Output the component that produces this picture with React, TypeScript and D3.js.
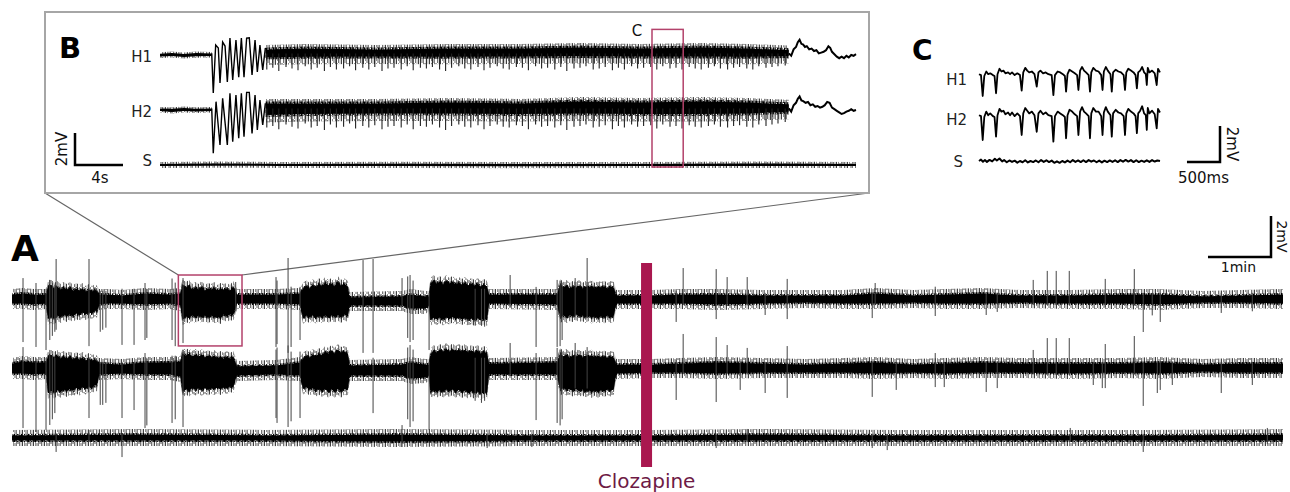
import React from "react";
import * as d3 from "d3";

type Band = [number, number, number];
type Spike = [number, number, number];
type Pt = [number, number];

// ---------- Panel A: time in minutes, amplitude in mV ----------
const A_T_MAX = 20.17;
const CLOZAPINE_T = 10.07;

const A_H1_BAND: Band[] = [
  [0.0, 0.29, -0.29], [0.17, 0.34, -0.29], [0.35, 0.29, -0.34], [0.54, 0.29, -0.29],
  [0.57, 0.68, -1.05], [0.62, 0.78, -0.98], [0.67, 0.59, -1.05], [0.72, 0.68, -0.88], [0.77, 0.54, -0.98],
  [0.82, 0.63, -0.83], [0.87, 0.54, -0.93], [0.92, 0.63, -0.83], [0.97, 0.49, -0.93], [1.02, 0.59, -0.78],
  [1.07, 0.49, -0.88], [1.12, 0.59, -0.73], [1.17, 0.44, -0.83], [1.22, 0.54, -0.73], [1.27, 0.44, -0.78],
  [1.32, 0.54, -0.63], [1.35, 0.44, -0.73], [1.38, 0.29, -0.34],
  [1.51, 0.29, -0.29], [1.75, 0.24, -0.29], [2.11, 0.34, -0.34], [2.51, 0.29, -0.29], [2.67, 0.34, -0.39],
  [2.71, 0.78, -1.1], [2.76, 0.63, -0.93], [2.81, 0.73, -1.0], [2.86, 0.54, -0.88], [2.91, 0.63, -0.98],
  [2.96, 0.54, -0.88], [3.01, 0.68, -0.98], [3.06, 0.49, -0.88], [3.11, 0.59, -1.0], [3.16, 0.54, -0.88],
  [3.21, 0.63, -0.98], [3.26, 0.49, -0.93], [3.31, 0.59, -1.02], [3.36, 0.54, -0.83], [3.41, 0.59, -0.93],
  [3.46, 0.49, -0.83], [3.51, 0.68, -0.88], [3.54, 0.49, -0.6], [3.57, 0.29, -0.29],
  [4.19, 0.29, -0.29], [4.57, 0.34, -0.34],
  [4.62, 0.59, -1.02], [4.67, 0.73, -0.88], [4.72, 0.59, -0.98], [4.77, 0.78, -0.88], [4.82, 0.63, -1.0],
  [4.87, 0.83, -0.9], [4.92, 0.68, -0.98], [4.97, 0.88, -0.88], [5.02, 0.73, -0.98], [5.07, 0.83, -0.88],
  [5.12, 0.7, -0.95], [5.17, 0.93, -0.85], [5.22, 0.73, -0.98], [5.27, 0.83, -0.83], [5.33, 0.68, -0.93],
  [5.36, 0.15, -0.39], [6.19, 0.2, -0.39], [6.32, 0.29, -0.54], [6.56, 0.2, -0.54], [6.62, 0.2, -0.39],
  [6.64, 0.83, -1.12], [6.69, 0.98, -0.98], [6.74, 0.83, -1.07], [6.79, 0.93, -0.98], [6.84, 0.78, -1.1],
  [6.89, 0.98, -0.98], [6.94, 0.83, -1.05], [6.99, 0.93, -0.95], [7.04, 0.78, -1.05], [7.09, 0.88, -0.98],
  [7.14, 0.78, -1.07], [7.19, 0.88, -1.0], [7.24, 0.73, -1.1], [7.29, 0.83, -1.02], [7.34, 0.73, -1.12],
  [7.39, 0.83, -1.0], [7.44, 0.68, -1.12], [7.49, 0.78, -1.05], [7.54, 0.68, -1.12], [7.57, 0.29, -0.29],
  [8.65, 0.29, -0.34],
  [8.7, 0.78, -0.98], [8.75, 0.63, -0.88], [8.8, 0.73, -0.98], [8.85, 0.59, -0.88], [8.9, 0.68, -0.93],
  [8.95, 0.63, -0.83], [9.0, 0.73, -0.93], [9.05, 0.59, -0.88], [9.1, 0.68, -0.98], [9.15, 0.63, -0.88],
  [9.2, 0.73, -1.0], [9.25, 0.59, -0.9], [9.3, 0.68, -1.02], [9.35, 0.63, -0.9], [9.4, 0.7, -1.0],
  [9.45, 0.59, -0.88], [9.5, 0.68, -0.98], [9.55, 0.63, -0.9], [9.59, 0.24, -0.29],
  [10.16, 0.24, -0.29], [10.6, 0.29, -0.29], [11.2, 0.29, -0.34], [11.9, 0.24, -0.29], [12.6, 0.24, -0.24],
  [13.2, 0.24, -0.29], [13.7, 0.34, -0.29], [14.3, 0.24, -0.24], [14.8, 0.29, -0.29], [15.4, 0.34, -0.29],
  [16.0, 0.24, -0.24], [16.8, 0.24, -0.29], [17.6, 0.29, -0.29], [18.2, 0.29, -0.34], [18.9, 0.2, -0.24],
  [19.5, 0.24, -0.24], [20.17, 0.29, -0.29],
];

const A_H2_BAND: Band[] = [
  [0.0, 0.29, -0.34], [0.17, 0.39, -0.34], [0.35, 0.34, -0.39], [0.54, 0.34, -0.34],
  [0.57, 0.63, -1.32], [0.62, 0.73, -1.2], [0.67, 0.59, -1.3], [0.72, 0.68, -1.15], [0.77, 0.54, -1.25],
  [0.82, 0.63, -1.12], [0.87, 0.54, -1.22], [0.92, 0.63, -1.1], [0.97, 0.49, -1.2], [1.02, 0.59, -1.05],
  [1.07, 0.49, -1.15], [1.12, 0.59, -1.0], [1.17, 0.44, -1.1], [1.22, 0.54, -0.98], [1.27, 0.44, -1.05],
  [1.32, 0.49, -0.9], [1.35, 0.39, -0.95], [1.38, 0.29, -0.39],
  [1.75, 0.24, -0.34], [2.11, 0.34, -0.39], [2.51, 0.34, -0.39], [2.67, 0.39, -0.49],
  [2.71, 0.78, -1.25], [2.76, 0.68, -1.1], [2.81, 0.78, -1.2], [2.86, 0.63, -1.05], [2.91, 0.73, -1.15],
  [2.96, 0.63, -1.05], [3.01, 0.73, -1.17], [3.06, 0.59, -1.05], [3.11, 0.68, -1.15], [3.16, 0.59, -1.05],
  [3.21, 0.68, -1.12], [3.26, 0.54, -1.02], [3.31, 0.63, -1.12], [3.36, 0.54, -1.0], [3.41, 0.63, -1.07],
  [3.46, 0.54, -0.98], [3.51, 0.63, -1.02], [3.54, 0.4, -0.7], [3.57, 0.15, -0.44],
  [4.19, 0.2, -0.39], [4.57, 0.34, -0.44],
  [4.62, 0.54, -1.1], [4.67, 0.68, -1.0], [4.72, 0.59, -1.15], [4.77, 0.73, -1.05], [4.82, 0.63, -1.2],
  [4.87, 0.78, -1.1], [4.92, 0.68, -1.22], [4.97, 0.88, -1.1], [5.02, 0.78, -1.25], [5.07, 0.93, -1.12],
  [5.12, 0.78, -1.25], [5.17, 0.98, -1.1], [5.22, 0.83, -1.25], [5.27, 0.88, -1.1], [5.33, 0.78, -1.15],
  [5.36, 0.2, -0.44], [6.19, 0.24, -0.44], [6.32, 0.34, -0.59], [6.56, 0.24, -0.54], [6.62, 0.24, -0.44],
  [6.64, 0.73, -1.3], [6.69, 0.93, -1.15], [6.74, 0.83, -1.25], [6.79, 0.98, -1.15], [6.84, 0.88, -1.25],
  [6.89, 1.02, -1.12], [6.94, 0.88, -1.22], [6.99, 1.0, -1.12], [7.04, 0.88, -1.25], [7.09, 0.98, -1.15],
  [7.14, 0.88, -1.27], [7.19, 0.98, -1.17], [7.24, 0.83, -1.3], [7.29, 0.93, -1.2], [7.34, 0.83, -1.32],
  [7.39, 0.93, -1.22], [7.44, 0.78, -1.35], [7.49, 0.88, -1.25], [7.54, 0.78, -1.32], [7.57, 0.29, -0.39],
  [8.65, 0.34, -0.39],
  [8.7, 0.78, -1.15], [8.75, 0.63, -1.05], [8.8, 0.73, -1.15], [8.85, 0.59, -1.1], [8.9, 0.68, -1.2],
  [8.95, 0.63, -1.1], [9.0, 0.73, -1.22], [9.05, 0.59, -1.12], [9.1, 0.68, -1.25], [9.15, 0.63, -1.15],
  [9.2, 0.7, -1.27], [9.25, 0.59, -1.15], [9.3, 0.68, -1.27], [9.35, 0.59, -1.15], [9.4, 0.66, -1.22],
  [9.45, 0.56, -1.12], [9.5, 0.63, -1.2], [9.55, 0.59, -1.1], [9.59, 0.24, -0.34],
  [10.16, 0.24, -0.29], [10.6, 0.29, -0.29], [11.2, 0.34, -0.34], [11.9, 0.29, -0.29], [12.6, 0.24, -0.29],
  [13.2, 0.29, -0.29], [13.7, 0.34, -0.34], [14.3, 0.24, -0.29], [14.8, 0.29, -0.34], [15.4, 0.34, -0.29],
  [16.0, 0.29, -0.29], [16.8, 0.29, -0.34], [17.6, 0.29, -0.29], [18.2, 0.34, -0.34], [18.9, 0.24, -0.24],
  [19.5, 0.29, -0.29], [20.17, 0.29, -0.29],
];

const A_S_BAND: Band[] = [
  [0, 0.2, -0.2], [2, 0.24, -0.2], [4, 0.2, -0.2], [6, 0.24, -0.24], [8, 0.2, -0.2],
  [10.16, 0.2, -0.2], [12, 0.24, -0.2], [14, 0.2, -0.2], [16, 0.2, -0.2], [18, 0.2, -0.2],
  [20.17, 0.24, -0.2],
];

// spikes: [time (min), top (mV), bottom (mV)]
const A_H1_SPIKES: Spike[] = [
  [0.175, 1.02, -2.1], [0.381, 0.78, -2.34], [0.54, 0.5, -2.49], [0.6, 0.93, -2.0],
  [0.64, 0.78, -1.8], [0.68, 0.7, -1.6], [0.7, 1.95, -1.5], [1.222, 1.95, -2.3],
  [1.4, 0.4, -1.6], [1.44, 0.4, -1.5], [1.49, 0.4, -1.4], [1.746, 0.5, -2.24],
  [1.937, 0.5, -2.24], [2.111, 0.78, -2.0], [2.14, 0.5, -1.9], [2.54, 1.0, -2.0],
  [2.59, 0.8, -2.3], [2.714, 1.02, -2.15], [3.55, 0.83, -0.6], [4.19, 1.07, -2.34],
  [4.206, 0.9, -2.2], [4.381, 2.0, -2.63], [4.429, 0.6, -2.34], [4.571, 0.59, -2.0],
  [5.571, 1.9, -2.63], [5.73, 1.95, -2.63], [6.19, 1.02, -0.3], [6.28, 1.1, -1.9],
  [6.317, 1.17, -2.1], [6.365, 0.9, -2.0], [6.619, 0.3, -2.49], [7.35, 0.5, -1.3],
  [7.45, 0.5, -1.3], [7.5, 0.5, -1.35], [7.905, 1.17, -0.4], [8.317, 0.59, -2.34],
  [8.651, 0.93, -2.34], [8.698, 0.9, -2.3], [8.73, 0.8, -2.0], [8.937, 1.02, -0.9],
  [9.127, 2.0, -0.9],
  [10.54, 0.4, -1.12], [10.651, 1.51, -0.3], [11.175, 1.46, -0.98], [11.349, 1.07, -0.3],
  [11.667, 1.07, -0.3], [11.952, 0.3, -0.78], [12.302, 0.98, -0.98], [13.651, 0.3, -0.93],
  [13.698, 0.78, -0.3], [14.651, 0.6, -0.83], [15.46, 0.3, -0.78], [15.635, 0.3, -0.63],
  [16.206, 0.93, -0.3], [16.429, 1.37, -0.3], [16.571, 1.37, -0.3], [16.778, 1.37, -0.3],
  [17.349, 0.98, -0.4], [17.81, 1.46, -0.3], [17.952, 0.3, -1.61], [18.095, 0.3, -0.8],
  [18.222, 0.3, -1.12], [19.19, 0.3, -0.68], [19.683, 0.3, -0.6],
];

const A_H2_SPIKES: Spike[] = [
  [0.175, 1.02, -2.93], [0.381, 0.5, -3.12], [0.54, 0.5, -3.02], [0.6, 0.7, -2.78],
  [0.64, 0.6, -2.5], [0.68, 0.5, -2.2], [1.222, 0.5, -2.44], [1.4, 0.3, -1.8],
  [1.44, 0.3, -1.8], [1.49, 0.3, -1.7], [1.746, 0.3, -2.44], [1.937, 0.3, -2.05],
  [2.111, 0.73, -2.93], [2.14, 0.5, -2.8], [2.54, 0.6, -2.68], [2.59, 0.6, -2.5],
  [2.714, 0.9, -2.88], [4.19, 0.9, -2.44], [4.206, 1.0, -2.68], [4.381, 1.1, -2.88],
  [4.429, 0.8, -2.6], [4.571, 0.8, -2.44], [5.73, 0.5, -2.2], [6.28, 1.0, -2.5],
  [6.317, 1.12, -2.88], [6.365, 0.9, -2.6], [6.619, 0.3, -3.02], [7.35, 0.5, -1.6],
  [7.45, 0.5, -1.7], [7.5, 0.5, -1.6], [7.905, 1.22, -0.4], [8.317, 0.73, -2.54],
  [8.651, 0.98, -2.68], [8.698, 0.9, -2.8], [8.73, 0.8, -2.5], [8.937, 1.22, -1.0],
  [9.127, 1.02, -1.0],
  [10.54, 0.4, -1.56], [10.651, 1.66, -0.3], [11.175, 1.51, -1.66], [11.349, 1.12, -0.3],
  [11.556, 0.3, -1.07], [11.667, 0.98, -0.3], [11.952, 0.3, -1.22], [12.302, 1.07, -1.46],
  [13.651, 0.3, -1.41], [14.032, 0.3, -1.07], [14.651, 0.73, -0.93], [14.794, 0.3, -0.93],
  [15.46, 0.3, -1.17], [15.635, 0.3, -0.98], [16.206, 0.88, -0.3], [16.429, 1.46, -0.3],
  [16.571, 1.46, -0.3], [16.778, 1.46, -0.3], [17.159, 0.3, -0.83], [17.302, 0.3, -0.98],
  [17.349, 1.17, -0.98], [17.81, 1.56, -0.3], [17.952, 0.3, -1.85], [18.175, 0.3, -1.22],
  [18.222, 0.3, -1.07], [18.413, 0.3, -0.83], [19.19, 0.3, -1.22], [19.683, 0.3, -0.83],
];

const A_S_SPIKES: Spike[] = [
  [0.7, 0.2, -0.68], [1.222, 0.39, -0.2], [1.746, 0.2, -0.93], [6.19, 0.63, -0.44],
  [7.54, 0.2, -0.49], [8.25, 0.2, -0.44], [11.175, 0.2, -0.49], [11.667, 0.44, -0.2],
  [13.651, 0.2, -0.49], [13.889, 0.2, -0.59], [16.794, 0.49, -0.2], [17.952, 0.2, -0.68],
  [19.921, 0.49, -0.3],
];

// zoom window of panel A shown in B (minutes, mV)
const A_ZOOM_WINDOW = { t0: 2.64, t1: 3.65, hi: 1.17, lo: -2.29 };

// ---------- Panel B: time in s, amplitude in mV ----------
const B_T_MAX = 58;
const B_H1_PRE: Band[] = [[0, 0.08, -0.1], [1, 0.12, -0.06], [2, 0.06, -0.12], [3, 0.12, -0.08], [4.31, 0.1, -0.06]];
const B_H2_PRE: Band[] = [[0, 0.1, -0.06], [1, 0.08, -0.12], [2, 0.12, -0.06], [3, 0.08, -0.1], [4.31, 0.1, -0.06]];
const B_H1_ONSET: Pt[] = [
  [4.31, 0.1], [4.44, -2.38], [4.64, 0.62], [4.86, 0.44], [5.0, -1.75], [5.22, 0.81], [5.42, 0.56],
  [5.61, -1.69], [5.83, 1.06], [6.06, -1.56], [6.33, 0.94], [6.56, -1.38], [6.78, 1.06], [7.0, -1.38],
  [7.22, 1.06], [7.44, 1.08], [7.67, -1.25], [7.92, 0.94], [8.11, -1.06], [8.33, 0.62], [8.56, -0.94],
  [8.78, 0.44],
];
const B_H2_ONSET: Pt[] = [
  [4.31, 0.1], [4.44, -2.7], [4.67, 0.52], [5.0, -2.19], [5.22, 0.73], [5.61, -2.19], [5.83, 1.04],
  [6.06, -1.98], [6.33, 0.94], [6.56, -1.77], [6.78, 1.04], [7.0, -1.67], [7.22, 1.1], [7.44, 1.1],
  [7.67, -1.46], [7.92, 0.94], [8.11, -1.25], [8.33, 0.62], [8.56, -0.94], [8.78, 0.42],
];
const B_H1_DENSE: Band[] = [
  [8.8, 0.44, -0.25], [12, 0.5, -0.2], [18, 0.44, -0.19], [24, 0.5, -0.2], [30, 0.5, -0.19],
  [35, 0.56, -0.16], [40, 0.5, -0.19], [45, 0.56, -0.19], [49, 0.5, -0.2], [52.4, 0.4, -0.15],
];
const B_H2_DENSE: Band[] = [
  [8.8, 0.5, -0.4], [12, 0.5, -0.35], [18, 0.5, -0.31], [24, 0.56, -0.31], [30, 0.5, -0.35],
  [35, 0.62, -0.31], [40, 0.56, -0.35], [45, 0.62, -0.35], [49, 0.56, -0.31], [52.4, 0.45, -0.2],
];
const B_STROKE_T: number[] = [
  8.9, 9.4, 9.9, 10.5, 11.0, 11.5, 12.1, 12.6, 13.1, 13.7, 14.2, 14.7, 15.3, 15.8, 16.3, 16.9, 17.4,
  17.9, 18.5, 19.0, 19.5, 20.1, 20.6, 21.1, 21.7, 22.2, 22.7, 23.3, 23.8, 24.3, 24.9, 25.4, 25.9, 26.5,
  27.0, 27.5, 28.1, 28.6, 29.1, 29.7, 30.2, 30.7, 31.3, 31.8, 32.3, 32.9, 33.4, 33.9, 34.5, 35.0, 35.5,
  36.1, 36.6, 37.1, 37.7, 38.2, 38.7, 39.3, 39.8, 40.3, 40.9, 41.4, 41.9, 42.5, 43.0, 43.5, 44.1, 44.6,
  45.1, 45.7, 46.2, 46.7, 47.3, 47.8, 48.3, 48.9, 49.4, 49.9, 50.5, 51.0, 51.5, 52.1,
];
const B_H1_DEPTH: number[] = [
  -0.9, -0.8, -1.0, -0.75, -0.85, -0.95, -0.7, -0.9, -0.8, -1.0, -0.75, -0.9, -0.85, -0.7, -0.95, -0.8,
  -0.9, -0.75, -1.0, -0.85, -0.8, -0.9, -0.7, -0.95, -0.8, -0.85, -0.75, -0.9, -1.0, -0.8, -0.7, -0.85,
  -0.9, -0.75, -0.95, -0.8, -0.7, -0.85, -0.9, -0.75, -0.8, -0.95, -0.7, -0.85, -0.8, -0.9, -0.75, -1.0,
  -0.85, -0.8, -0.7, -0.9, -0.85, -0.75, -0.95, -0.8, -0.9, -0.7, -0.85, -0.8, -0.75, -0.9, -0.7, -0.85,
  -0.8, -0.9, -0.75, -0.85, -0.9, -0.8, -0.7, -0.85, -0.9, -0.8, -0.75, -0.85, -0.9, -0.7, -0.8, -0.75,
  -0.7, -0.65,
];
const B_H2_DEPTH: number[] = [
  -1.1, -1.0, -1.2, -0.9, -1.05, -1.15, -0.85, -1.1, -1.0, -1.25, -0.9, -1.1, -1.05, -0.85, -1.15, -1.0,
  -1.1, -0.95, -1.2, -1.05, -1.0, -1.1, -0.9, -1.2, -1.0, -1.05, -0.9, -1.1, -1.25, -1.0, -0.9, -1.05,
  -1.1, -0.95, -1.2, -1.0, -0.9, -1.05, -1.1, -0.95, -1.0, -1.2, -0.9, -1.05, -1.0, -1.1, -0.95, -1.25,
  -1.05, -1.0, -0.9, -1.1, -1.05, -0.95, -1.2, -1.0, -1.1, -0.9, -1.05, -1.0, -0.95, -1.15, -0.9, -1.05,
  -1.0, -1.15, -0.95, -1.05, -1.1, -1.0, -0.9, -1.05, -1.1, -1.0, -0.95, -1.05, -1.1, -0.9, -1.0, -0.9,
  -0.85, -0.75,
];
const B_H1_END: Pt[] = [
  [52.4, 0.1], [52.6, -0.05], [52.8, 0.35], [53.0, 0.5], [53.15, 0.8], [53.3, 0.95], [53.45, 0.7],
  [53.6, 0.65], [53.75, 0.5], [53.9, 0.55], [54.1, 0.35], [54.3, 0.4], [54.5, 0.25], [54.7, 0.3],
  [54.9, 0.1], [55.1, 0.15], [55.3, 0.2], [55.5, 0.3], [55.7, 0.55], [55.85, 0.45], [56.0, 0.2],
  [56.2, 0.05], [56.4, -0.1], [56.6, -0.2], [56.8, -0.1], [57.0, -0.2], [57.2, -0.05], [57.4, -0.15],
  [57.6, 0.0], [57.8, -0.05], [58.0, 0.05],
];
const B_H2_END: Pt[] = [
  [52.4, 0.1], [52.6, -0.1], [52.8, 0.3], [53.0, 0.45], [53.15, 0.7], [53.3, 0.85], [53.45, 0.6],
  [53.6, 0.55], [53.8, 0.45], [54.0, 0.5], [54.2, 0.3], [54.4, 0.35], [54.6, 0.2], [54.8, 0.25],
  [55.0, 0.15], [55.2, 0.2], [55.4, 0.3], [55.6, 0.5], [55.8, 0.45], [56.0, 0.15], [56.2, 0.05],
  [56.4, -0.05], [56.6, -0.15], [56.8, -0.25], [57.0, -0.2], [57.2, -0.1], [57.4, -0.05], [57.6, 0.05],
  [57.8, -0.05], [58.0, 0.0],
];
const B_S_BAND: Band[] = [
  [0, 0.06, -0.06], [4.5, 0.1, -0.04], [10, 0.06, -0.06], [20, 0.08, -0.06], [30, 0.06, -0.08],
  [40, 0.06, -0.06], [50, 0.1, -0.06], [58, 0.06, -0.06],
];
const B_ZOOM_WINDOW = { t0: 41.0, t1: 43.6, hi: 1.6, lo: -7.0 };

// ---------- Panel C: time in s, amplitude in mV ----------
const C_T_MAX = 2.74;
const C_H1: Pt[] = [
  [0.0, 0.1], [0.03, 0.05], [0.056, -1.11], [0.08, 0.0], [0.11, 0.25], [0.14, 0.1], [0.17, 0.15],
  [0.21, 0.05], [0.235, 0.0], [0.258, -0.96], [0.28, 0.1], [0.31, 0.4], [0.34, 0.25], [0.37, 0.3],
  [0.4, 0.15], [0.44, 0.2], [0.47, 0.1], [0.5, 0.2], [0.54, 0.05], [0.58, 0.15], [0.62, 0.05],
  [0.646, -0.81], [0.67, 0.2], [0.7, 0.45], [0.73, 0.3], [0.76, 0.2], [0.8, 0.25], [0.84, 0.1],
  [0.874, -0.59], [0.9, 0.2], [0.93, 0.3], [0.97, 0.15], [1.01, 0.2], [1.05, 0.1], [1.1, 0.05],
  [1.126, -1.06], [1.15, 0.05], [1.19, 0.25], [1.23, 0.2], [1.27, 0.1], [1.3, 0.0], [1.318, -0.87],
  [1.34, 0.1], [1.37, 0.35], [1.41, 0.25], [1.45, 0.15], [1.485, 0.05], [1.505, -0.78], [1.53, 0.3],
  [1.56, 0.5], [1.59, 0.3], [1.62, 0.2], [1.66, 0.05], [1.68, -0.87], [1.7, 0.2], [1.73, 0.45],
  [1.77, 0.3], [1.81, 0.25], [1.85, 0.05], [1.87, -0.78], [1.89, 0.25], [1.92, 0.5], [1.95, 0.3],
  [1.99, 0.1], [2.01, -0.87], [2.03, 0.2], [2.07, 0.35], [2.11, 0.25], [2.15, 0.2], [2.19, 0.05],
  [2.21, -0.78], [2.23, 0.2], [2.26, 0.4], [2.3, 0.3], [2.34, 0.2], [2.37, 0.05], [2.39, -0.69],
  [2.41, 0.2], [2.44, 0.3], [2.47, 0.5], [2.5, 0.2], [2.525, 0.1], [2.54, -0.5], [2.555, 0.45],
  [2.58, 0.2], [2.62, 0.3], [2.66, 0.15], [2.69, -0.5], [2.71, 0.4], [2.74, 0.2],
];
const C_H2: Pt[] = [
  [0.0, 0.1], [0.03, 0.05], [0.056, -1.28], [0.08, 0.0], [0.11, 0.3], [0.14, 0.1], [0.17, 0.2],
  [0.21, 0.05], [0.235, 0.0], [0.258, -1.09], [0.28, 0.1], [0.31, 0.45], [0.34, 0.3], [0.37, 0.35],
  [0.4, 0.15], [0.44, 0.25], [0.47, 0.1], [0.5, 0.25], [0.54, 0.05], [0.58, 0.2], [0.62, 0.05],
  [0.646, -1.0], [0.67, 0.2], [0.7, 0.5], [0.73, 0.35], [0.76, 0.2], [0.8, 0.3], [0.84, 0.1],
  [0.874, -0.82], [0.9, 0.2], [0.93, 0.35], [0.97, 0.15], [1.01, 0.25], [1.05, 0.1], [1.1, 0.05],
  [1.126, -1.37], [1.15, 0.05], [1.19, 0.3], [1.23, 0.2], [1.27, 0.1], [1.3, 0.0], [1.318, -1.18],
  [1.34, 0.1], [1.37, 0.4], [1.41, 0.3], [1.45, 0.15], [1.485, 0.05], [1.505, -1.0], [1.53, 0.3],
  [1.56, 0.55], [1.59, 0.3], [1.62, 0.2], [1.66, 0.05], [1.68, -1.18], [1.7, 0.2], [1.73, 0.5],
  [1.77, 0.3], [1.81, 0.3], [1.85, 0.05], [1.87, -1.0], [1.89, 0.25], [1.92, 0.55], [1.95, 0.3],
  [1.99, 0.1], [2.01, -1.09], [2.03, 0.2], [2.07, 0.4], [2.11, 0.25], [2.15, 0.2], [2.19, 0.05],
  [2.21, -1.0], [2.23, 0.2], [2.26, 0.45], [2.3, 0.3], [2.34, 0.2], [2.37, 0.05], [2.39, -0.9],
  [2.41, 0.2], [2.44, 0.35], [2.47, 0.6], [2.5, 0.2], [2.525, 0.1], [2.54, -0.72], [2.555, 0.5],
  [2.58, 0.2], [2.62, 0.35], [2.66, 0.15], [2.69, -0.63], [2.71, 0.45], [2.74, 0.25],
];
const C_S: Pt[] = [
  [0, 0.0], [0.03, 0.08], [0.06, -0.04], [0.09, 0.05], [0.12, -0.05], [0.16, 0.06], [0.2, -0.02],
  [0.24, 0.12], [0.27, 0.03], [0.31, 0.14], [0.35, -0.02], [0.38, 0.05], [0.42, -0.07], [0.46, 0.03],
  [0.5, -0.05], [0.54, 0.02], [0.58, -0.09], [0.62, 0.0], [0.66, -0.07], [0.7, 0.04], [0.74, -0.08],
  [0.78, 0.0], [0.82, -0.06], [0.86, 0.03], [0.9, -0.07], [0.94, 0.05], [0.98, -0.05], [1.02, 0.04],
  [1.06, -0.06], [1.1, 0.02], [1.14, -0.1], [1.18, -0.02], [1.22, -0.1], [1.26, 0.0], [1.3, -0.08],
  [1.34, 0.02], [1.38, -0.07], [1.42, 0.05], [1.46, -0.05], [1.5, 0.03], [1.54, -0.06], [1.58, 0.04],
  [1.62, -0.06], [1.66, 0.05], [1.7, -0.04], [1.74, 0.03], [1.78, -0.07], [1.82, 0.02], [1.86, -0.08],
  [1.9, 0.02], [1.94, -0.06], [1.98, 0.03], [2.02, -0.05], [2.06, 0.04], [2.1, -0.06], [2.14, 0.05],
  [2.18, -0.04], [2.22, 0.06], [2.26, -0.03], [2.3, 0.05], [2.34, -0.06], [2.38, 0.04], [2.42, -0.06],
  [2.46, 0.02], [2.5, -0.05], [2.54, 0.04], [2.58, -0.05], [2.62, 0.05], [2.66, -0.03], [2.7, 0.03],
  [2.74, 0.0],
];

// scale bars
const A_SCALE = { t: 1, mv: 2, tLabel: "1min", vLabel: "2mV" };
const B_SCALE = { t: 4, mv: 2, tLabel: "4s", vLabel: "2mV" };
const C_SCALE = { t: 0.5, mv: 2, tLabel: "500ms", vLabel: "2mV" };

const FONT = "'DejaVu Sans', Verdana, sans-serif";
const MAGENTA = "#a9174f";
const BOX = "#b3426b";

type Scale = d3.ScaleLinear<number, number>;

export default function App() {
  const ax = d3.scaleLinear().domain([0, A_T_MAX]).range([12, 1283]);
  const aY = (base: number) => d3.scaleLinear().domain([-1, 1]).range([base + 20.5, base - 20.5]);
  const aH1 = aY(299), aH2 = aY(368), aS = aY(438);

  const bx = d3.scaleLinear().domain([0, B_T_MAX]).range([160, 856]);
  const bY = (base: number) => d3.scaleLinear().domain([-1, 1]).range([base + 16, base - 16]);
  const bH1 = bY(55), bH2 = bY(110), bS = bY(165);

  const cx = d3.scaleLinear().domain([0, C_T_MAX]).range([979, 1160]);
  const cY = (base: number) => d3.scaleLinear().domain([-1, 1]).range([base + 18, base - 18]);
  const cH1 = cY(76), cH2 = cY(117), cS = cY(161);

  const bandPath = (data: Band[], x: Scale, y: Scale, padTop = 0, padBot = padTop) =>
    d3.area<Band>().x((d) => x(d[0])).y0((d) => y(d[2]) + padBot).y1((d) => y(d[1]) - padTop)(data) || "";
  const linePath = (data: Pt[], x: Scale, y: Scale) =>
    d3.line<Pt>().x((d) => x(d[0])).y((d) => y(d[1]))(data) || "";

  const aTrace = (band: Band[], spikes: Spike[], y: Scale, key: string) => (
    <g key={key}>
      <path d={bandPath(band, ax, y, 4)} fill="url(#hair)" />
      <path d={bandPath(band, ax, y, -1.5)} fill="#000" />
      <path d={bandPath(band, ax, y, 0)} fill="url(#hairDense)" />
      {spikes.map((s, i) => (
        <line key={i} x1={ax(s[0])} x2={ax(s[0])} y1={y(s[1])} y2={y(s[2])} stroke="#444" strokeWidth={1} />
      ))}
    </g>
  );

  const bStrokes = (depths: number[], y: Scale) =>
    B_STROKE_T.map((t, i) =>
      depths[i] === undefined ? null : (
        <line key={i} x1={bx(t)} x2={bx(t)} y1={y(0.1)} y2={y(depths[i])} stroke="#222" strokeWidth={1.1} />
      )
    );

  const boxL = 45, boxT = 12, boxR = 869, boxB = 193;
  const zx0 = ax(A_ZOOM_WINDOW.t0), zx1 = ax(A_ZOOM_WINDOW.t1);
  const zy0 = aH1(A_ZOOM_WINDOW.hi), zy1 = aH1(A_ZOOM_WINDOW.lo);
  const tLen = (s: number) => ax(s) - ax(0);

  return (
    <svg width={1290} height={492} style={{ position: "absolute", left: 0, top: 0, background: "#fff" }} fontFamily={FONT}>
      <defs>
        <pattern id="hair" patternUnits="userSpaceOnUse" width={11} height={7}>
          <rect x={0} y={0} width={1} height={7} fill="#000" opacity={0.75} />
          <rect x={2} y={0} width={1} height={5} fill="#000" opacity={0.45} />
          <rect x={3.5} y={2} width={1} height={5} fill="#000" opacity={0.6} />
          <rect x={5} y={0} width={1} height={7} fill="#000" opacity={0.5} />
          <rect x={6.5} y={0} width={1} height={3} fill="#000" opacity={0.7} />
          <rect x={8} y={1} width={1} height={6} fill="#000" opacity={0.55} />
          <rect x={9.5} y={0} width={1} height={7} fill="#000" opacity={0.35} />
        </pattern>
        <pattern id="hairDense" patternUnits="userSpaceOnUse" width={7} height={5}>
          <rect x={0} y={0} width={1.2} height={5} fill="#000" />
          <rect x={1.5} y={0} width={1} height={4} fill="#000" opacity={0.8} />
          <rect x={3} y={1} width={1.2} height={4} fill="#000" opacity={0.9} />
          <rect x={4.7} y={0} width={1} height={5} fill="#000" opacity={0.7} />
          <rect x={6} y={0} width={1} height={3} fill="#000" opacity={0.8} />
        </pattern>
      </defs>
      <rect x={0} y={0} width={1290} height={492} fill="#fff" />
      <line x1={boxL} y1={boxB} x2={zx0} y2={zy0} stroke="#666" strokeWidth={1.2} />
      <line x1={boxR} y1={boxB} x2={zx1} y2={zy0} stroke="#666" strokeWidth={1.2} />

      {/* Panel A */}
      <text x={11} y={261} fontSize={36} fontWeight="bold" fill="#000">A</text>
      {aTrace(A_H1_BAND, A_H1_SPIKES, aH1, "h1")}
      {aTrace(A_H2_BAND, A_H2_SPIKES, aH2, "h2")}
      {aTrace(A_S_BAND, A_S_SPIKES, aS, "s")}
      <rect x={zx0} y={zy0} width={zx1 - zx0} height={zy1 - zy0} fill="none" stroke={BOX} strokeWidth={1.5} />
      <rect x={ax(CLOZAPINE_T) - 5.5} y={263} width={11} height={204} fill={MAGENTA} />
      <text x={ax(CLOZAPINE_T)} y={488} fontSize={20} textAnchor="middle" fill="#6e1a45">Clozapine</text>
      {(() => {
        const xr = 1271, yb = 257;
        const xl = xr - tLen(A_SCALE.t);
        const yt = yb - (aH1(0) - aH1(A_SCALE.mv));
        return (
          <g>
            <path d={`M${xl},${yb}H${xr}V${yt}`} fill="none" stroke="#000" strokeWidth={2.5} />
            <text x={(xl + xr) / 2 - 1} y={272} fontSize={14} textAnchor="middle" fill="#111">{A_SCALE.tLabel}</text>
            <text transform={`translate(${xr + 6},${(yt + yb) / 2}) rotate(90)`} fontSize={14} textAnchor="middle" fill="#111">{A_SCALE.vLabel}</text>
          </g>
        );
      })()}

      {/* Panel B */}
      <rect x={boxL} y={boxT} width={boxR - boxL} height={boxB - boxT} fill="#fff" stroke="#a6a6a6" strokeWidth={2} />
      <text x={59} y={58} fontSize={29} fontWeight="bold" fill="#000">B</text>
      <text x={152} y={62} fontSize={15} textAnchor="end" fill="#222">H1</text>
      <text x={152} y={117} fontSize={15} textAnchor="end" fill="#222">H2</text>
      <text x={152} y={166} fontSize={15} textAnchor="end" fill="#222">S</text>
      <path d={bandPath(B_H1_PRE, bx, bH1, 1.5)} fill="url(#hair)" />
      <path d={bandPath(B_H1_PRE, bx, bH1)} fill="#000" />
      <path d={linePath(B_H1_ONSET, bx, bH1)} fill="none" stroke="#000" strokeWidth={1.4} />
      <path d={bandPath(B_H1_DENSE, bx, bH1, 3, 6)} fill="url(#hair)" />
      <path d={bandPath(B_H1_DENSE, bx, bH1, -1.5)} fill="#000" />
      <path d={bandPath(B_H1_DENSE, bx, bH1, 0.5)} fill="url(#hairDense)" />
      {bStrokes(B_H1_DEPTH, bH1)}
      <path d={linePath(B_H1_END, bx, bH1)} fill="none" stroke="#000" strokeWidth={2} />
      <path d={bandPath(B_H2_PRE, bx, bH2, 1.5)} fill="url(#hair)" />
      <path d={bandPath(B_H2_PRE, bx, bH2)} fill="#000" />
      <path d={linePath(B_H2_ONSET, bx, bH2)} fill="none" stroke="#000" strokeWidth={1.4} />
      <path d={bandPath(B_H2_DENSE, bx, bH2, 3, 6)} fill="url(#hair)" />
      <path d={bandPath(B_H2_DENSE, bx, bH2, -1.5)} fill="#000" />
      <path d={bandPath(B_H2_DENSE, bx, bH2, 0.5)} fill="url(#hairDense)" />
      {bStrokes(B_H2_DEPTH, bH2)}
      <path d={linePath(B_H2_END, bx, bH2)} fill="none" stroke="#000" strokeWidth={2} />
      <path d={bandPath(B_S_BAND, bx, bS, 2)} fill="url(#hair)" />
      <path d={bandPath(B_S_BAND, bx, bS)} fill="#000" />
      <rect x={bx(B_ZOOM_WINDOW.t0)} y={bH1(B_ZOOM_WINDOW.hi)} width={bx(B_ZOOM_WINDOW.t1) - bx(B_ZOOM_WINDOW.t0)}
        height={bH1(B_ZOOM_WINDOW.lo) - bH1(B_ZOOM_WINDOW.hi)} fill="none" stroke={BOX} strokeWidth={1.5} />
      <text x={bx(B_ZOOM_WINDOW.t0) - 15} y={36} fontSize={15} textAnchor="middle" fill="#111">C</text>
      {(() => {
        const xl = 75, yb = 165;
        const xr = xl + (bx(B_SCALE.t) - bx(0));
        const yt = yb - (bH1(0) - bH1(B_SCALE.mv));
        return (
          <g>
            <path d={`M${xl},${yt}V${yb}H${xr}`} fill="none" stroke="#000" strokeWidth={2.5} />
            <text x={(xl + xr) / 2 + 1} y={183} fontSize={15} textAnchor="middle" fill="#111">{B_SCALE.tLabel}</text>
            <text transform={`translate(${xl - 8},${(yt + yb) / 2}) rotate(-90)`} fontSize={15} textAnchor="middle" fill="#111">{B_SCALE.vLabel}</text>
          </g>
        );
      })()}

      {/* Panel C */}
      <text x={912} y={60} fontSize={28} fontWeight="bold" fill="#000">C</text>
      <text x={967} y={85} fontSize={15} textAnchor="end" fill="#222">H1</text>
      <text x={967} y={125} fontSize={15} textAnchor="end" fill="#222">H2</text>
      <text x={963} y={167} fontSize={15} textAnchor="end" fill="#222">S</text>
      <path d={linePath(C_H1, cx, cH1)} fill="none" stroke="#000" strokeWidth={1.8} strokeLinejoin="round" />
      <path d={linePath(C_H2, cx, cH2)} fill="none" stroke="#000" strokeWidth={1.8} strokeLinejoin="round" />
      <path d={linePath(C_S, cx, cS)} fill="none" stroke="#000" strokeWidth={2} strokeLinejoin="round" />
      {(() => {
        const xr = 1220, yb = 162;
        const xl = xr - (cx(C_SCALE.t) - cx(0));
        const yt = yb - (cH1(0) - cH1(C_SCALE.mv));
        return (
          <g>
            <path d={`M${xl},${yb}H${xr}V${yt}`} fill="none" stroke="#000" strokeWidth={2.5} />
            <text x={(xl + xr) / 2} y={183} fontSize={15} textAnchor="middle" fill="#111">{C_SCALE.tLabel}</text>
            <text transform={`translate(${xr + 7},${(yt + yb) / 2}) rotate(90)`} fontSize={15} textAnchor="middle" fill="#111">{C_SCALE.vLabel}</text>
          </g>
        );
      })()}
    </svg>
  );
}
